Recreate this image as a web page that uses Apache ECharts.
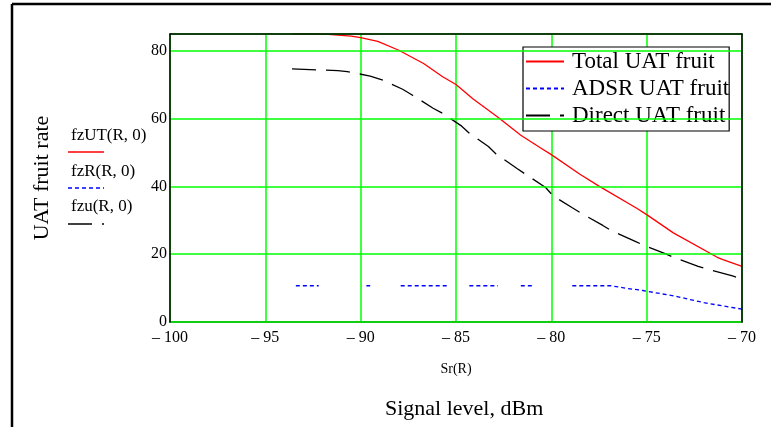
<!DOCTYPE html>
<html>
<head>
<meta charset="utf-8">
<script src="https://cdn.jsdelivr.net/npm/echarts@6/dist/echarts.min.js"></script>
<style>
html,body{margin:0;padding:0;background:#fff;}
#chart{width:771px;height:427px;}
</style>
</head>
<body>
<div id="chart"></div>
<script>
// ---- data ----
var xTicks = [-100, -95, -90, -85, -80, -75, -70];
var yTicks = [0, 20, 40, 60, 80];

var totalX = [-93.6, -92.5, -91.7, -90.5, -90.0, -89.1, -88.0, -86.7, -85.7, -85.0, -84.1, -82.8, -81.6, -80.6, -80.0, -78.5, -77.5, -75.5, -75.0, -73.6, -71.3, -71.0, -70.0];
var totalY = [85.0, 85.0, 84.9, 84.4, 83.9, 82.8, 80.2, 76.3, 72.4, 70.1, 65.8, 60.4, 55.1, 51.5, 49.4, 43.6, 40.1, 33.5, 31.7, 26.3, 19.1, 18.4, 16.4];

var adsrX = [-93.4, -92.2, -91.0, -89.7, -89.5, -88.7, -87.9, -85.4, -84.9, -84.3, -82.8, -82.2, -81.6, -80.9, -79.9, -78.9, -76.9, -76.0, -75.2, -73.4, -72.0, -70.0];
var adsrY = [10.7, 10.7, null, 10.7, 10.7, null, 10.7, 10.7, null, 10.7, 10.7, null, 10.7, 10.7, null, 10.7, 10.7, 9.9, 9.3, 7.5, 5.7, 3.8];

var directX = [-93.6, -91.2, -90.7, -89.5, -88.8, -87.8, -87.3, -86.2, -85.7, -84.7, -84.3, -83.3, -82.9, -81.8, -81.4, -80.3, -79.9, -78.9, -78.4, -77.3, -76.8, -75.6, -75.1, -74.0, -73.5, -72.3, -71.8, -70.5, -70.0];
var directY = [74.7, 74.2, 73.9, 72.6, 71.3, 68.7, 67.0, 63.1, 61.6, 57.8, 55.7, 51.8, 49.6, 45.3, 43.8, 39.7, 37.2, 33.7, 32.0, 28.5, 26.8, 23.8, 22.5, 20.1, 18.9, 16.4, 15.6, 13.6, 12.7];

var seriesNames = ['Total UAT fruit', 'ADSR UAT fruit', 'Direct UAT fruit'];
var sideLabels = ['fzUT(R, 0)', 'fzR(R, 0)', 'fzu(R, 0)'];
var xAxisName = 'Sr(R)';
var yAxisName = 'UAT fruit rate';
var bottomTitle = 'Signal level, dBm';

function zip(xs, ys) {
  return xs.map(function (x, i) { return [x, ys[i] === null ? null : ys[i]]; });
}
function fmt(v) { return v < 0 ? '\u2013 ' + Math.abs(v) : String(v); }

var FONT = 'Liberation Serif, Times New Roman, serif';
var chart = echarts.init(document.getElementById('chart'), null, {renderer: 'canvas'});

chart.setOption({
  backgroundColor: '#fff',
  animation: false,
  title: {
    text: bottomTitle,
    left: 380, top: 393,
    textStyle: {fontFamily: FONT, fontSize: 22, fontWeight: 'normal', color: '#000'}
  },
  grid: {left: 170, right: 29, top: 34, bottom: 105, containLabel: false},
  legend: {
    data: seriesNames,
    orient: 'vertical',
    left: 523, top: 47,
    backgroundColor: '#fff',
    borderColor: '#000', borderWidth: 1.2,
    padding: [3, 0, 4, 2],
    itemWidth: 38, itemHeight: 24, itemGap: 4,
    itemStyle: {color: 'rgba(0,0,0,0)', borderWidth: 0, opacity: 0},
    textStyle: {fontFamily: FONT, fontSize: 23, color: '#000', padding: [0, 0, 0, 3]},
    selectedMode: false
  },
  xAxis: [{
    type: 'value', min: -100, max: -70, interval: 5,
    name: xAxisName, nameLocation: 'middle', nameGap: 40,
    nameTextStyle: {fontFamily: FONT, fontSize: 14, color: '#000'},
    axisLine: {show: true, onZero: false, lineStyle: {color: '#000', width: 1.5}},
    axisTick: {show: false},
    axisLabel: {fontFamily: FONT, fontSize: 16, color: '#000', margin: 8, formatter: fmt},
    splitLine: {show: true, lineStyle: {color: '#00ff00', width: 1.5}}
  }, {
    type: 'value', min: -100, max: -70, position: 'top', z: 10,
    axisLine: {show: true, onZero: false, lineStyle: {color: '#000', width: 1.5}},
    axisTick: {show: false}, axisLabel: {show: false}, splitLine: {show: false}
  }],
  yAxis: [{
    type: 'value', min: 0, max: 85, interval: 20, z: 10,
    name: yAxisName, nameLocation: 'middle', nameGap: 117, nameRotate: 90,
    nameTextStyle: {fontFamily: FONT, fontSize: 22, color: '#000'},
    axisLine: {show: true, onZero: false, lineStyle: {color: '#000', width: 1.5}},
    axisTick: {show: false},
    axisLabel: {fontFamily: FONT, fontSize: 16, color: '#000', margin: 3, showMaxLabel: false, formatter: fmt},
    splitLine: {show: true, lineStyle: {color: '#00ff00', width: 1.5}}
  }, {
    type: 'value', min: 0, max: 85, position: 'right', z: 10,
    axisLine: {show: true, onZero: false, lineStyle: {color: '#000', width: 1.5}},
    axisTick: {show: false}, axisLabel: {show: false}, splitLine: {show: false}
  }],
  series: [{
    name: seriesNames[0], type: 'line', data: zip(totalX, totalY),
    symbol: 'none', lineStyle: {color: '#ff0000', width: 1.3}, itemStyle: {color: '#ff0000'}, z: 3
  }, {
    name: seriesNames[1], type: 'line', data: zip(adsrX, adsrY), connectNulls: false,
    symbol: 'none', lineStyle: {color: '#0000ff', width: 1.3, type: [4, 3]}, itemStyle: {color: '#0000ff'}, z: 3
  }, {
    name: seriesNames[2], type: 'line', data: zip(directX, directY),
    symbol: 'none', lineStyle: {color: '#000', width: 1.3, type: [24, 10]}, itemStyle: {color: '#000'}, z: 3
  }],
  graphic: [
    {type: 'line', shape: {x1: 12, y1: 4, x2: 12, y2: 427}, style: {stroke: '#000', lineWidth: 2.5}},
    {type: 'line', shape: {x1: 12, y1: 4, x2: 771, y2: 4}, style: {stroke: '#000', lineWidth: 2.5}},
    {type: 'text', left: 71, top: 127, style: {text: sideLabels[0], font: '17px ' + FONT, fill: '#000'}},
    {type: 'line', shape: {x1: 68, y1: 152, x2: 104, y2: 152}, style: {stroke: '#ff0000', lineWidth: 1.3}},
    {type: 'text', left: 71, top: 163, style: {text: sideLabels[1], font: '17px ' + FONT, fill: '#000'}},
    {type: 'line', shape: {x1: 68, y1: 188, x2: 104, y2: 188}, style: {stroke: '#0000ff', lineWidth: 1.3, lineDash: [4, 3]}},
    {type: 'text', left: 71, top: 198, style: {text: sideLabels[2], font: '17px ' + FONT, fill: '#000'}},
    {type: 'line', shape: {x1: 68, y1: 224, x2: 104, y2: 224}, style: {stroke: '#000', lineWidth: 1.3, lineDash: [24, 10]}}
  ]
});
</script>
</body>
</html>
